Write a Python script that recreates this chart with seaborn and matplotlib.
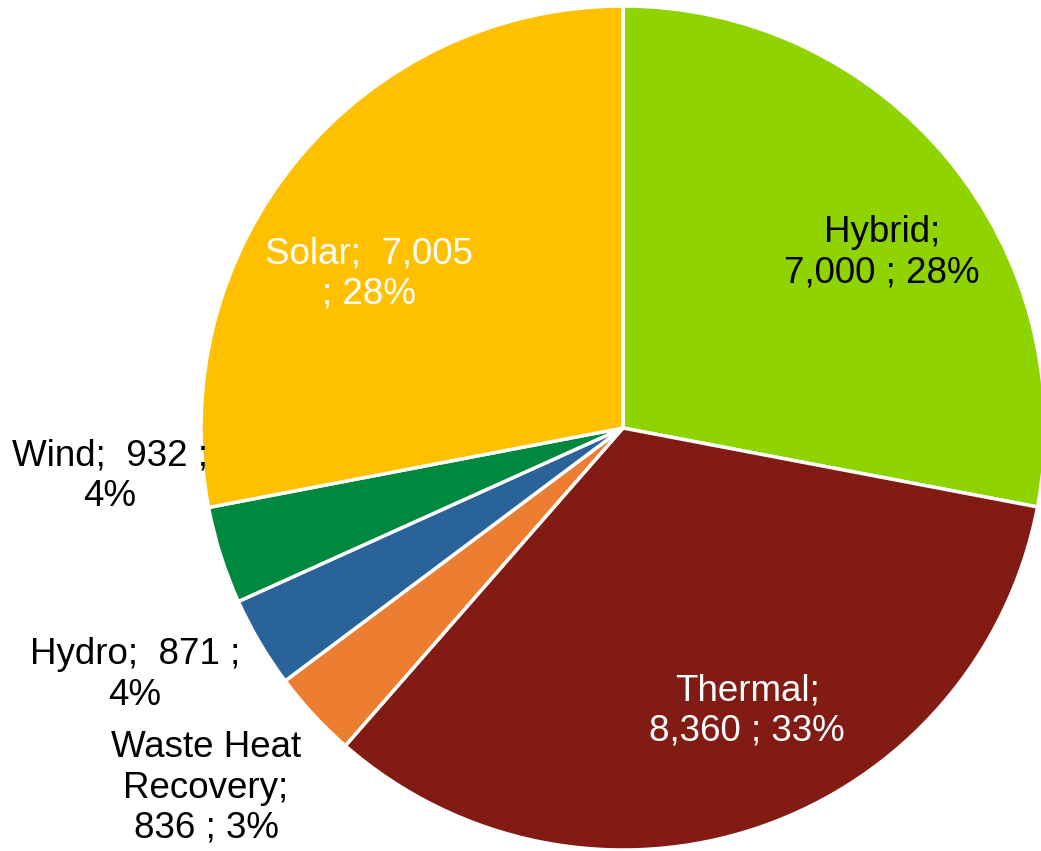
import matplotlib
matplotlib.use("Agg")
import matplotlib.pyplot as plt
import seaborn as sns

sns.set_style("white")
plt.rcParams['font.family'] = ['Liberation Sans', 'DejaVu Sans']

categories = ["Hybrid", "Thermal", "Waste Heat Recovery", "Hydro", "Wind", "Solar"]
values = [7000, 8360, 836, 871, 932, 7005]
colors = ["#8FD300", "#831B15", "#ED7D31", "#2A6399", "#00883E", "#FFC000"]
label_texts = ["Hybrid;\n7,000 ; 28%", "Thermal;\n8,360 ; 33%", "Waste Heat\nRecovery;\n836 ; 3%",
               "Hydro;  871 ;\n4%", "Wind;  932 ;\n4%", "Solar;  7,005\n; 28%"]
label_colors = ["black", "white", "black", "black", "black", "white"]
# label centers in pixel coordinates (x, y from top)
label_pos = [(882, 253), (747, 711), (206, 788), (135, 675), (110, 476), (369, 274)]

W, H = 1041, 851
fig = plt.figure(figsize=(W / 100, H / 100), dpi=100)
ax = fig.add_axes([0, 0, 1, 1])
ax.pie(values, colors=colors, startangle=90, counterclock=False,
       center=(623, 423), radius=422,
       wedgeprops=dict(edgecolor="white", linewidth=2.5))
for txt, col, (px, py) in zip(label_texts, label_colors, label_pos):
    ax.text(px, H - py, txt, ha="center", va="center", color=col,
            fontsize=26.5, linespacing=1.2, multialignment="center")
ax.set_xlim(0, W)
ax.set_ylim(0, H)
ax.set_aspect("equal")
ax.axis("off")
fig.savefig("out.png", dpi=100)
